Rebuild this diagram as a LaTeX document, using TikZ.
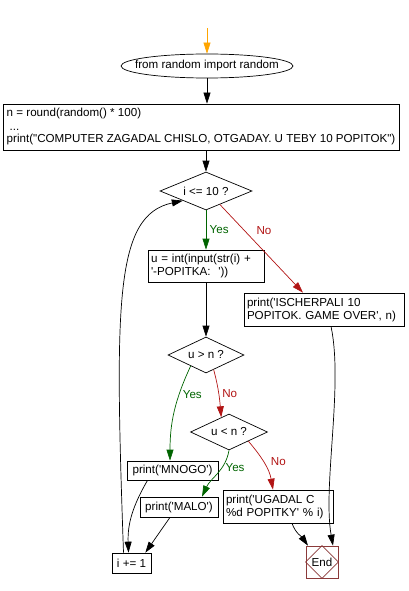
\documentclass[tikz,border=0pt]{standalone}
\usepackage{fontspec}
\newfontfamily\flowfont{Liberation Sans}
\usepackage{xcolor}
\usetikzlibrary{shapes.geometric}
\usetikzlibrary{arrows.meta}
\usetikzlibrary{calc}
\definecolor{yesgreen}{RGB}{0,100,0}
\definecolor{nored}{RGB}{178,20,20}
\definecolor{endred}{RGB}{139,58,58}
\definecolor{startorange}{RGB}{255,165,0}
\tikzset{
  box/.style={draw, rectangle, inner xsep=3pt, inner ysep=1pt},
  test/.style={draw, diamond, aspect=2.4, inner sep=0pt},
  yesline/.style={->, yesgreen},
  noline/.style={->, nored}
}

\begin{document}
\begin{tikzpicture}[x=1pt,y=-1pt,line width=0.7pt,>={Triangle[length=11pt,width=7pt]},font=\flowfont\fontsize{11.6}{13}\selectfont]
  \useasboundingbox (0,0) rectangle (409,591);
  \coordinate (top) at (207,28);
  \node[minimum width=172pt, minimum height=24pt, inner sep=0pt] (imp) at (207,66) {from random import random};
  \draw (imp.center) ellipse [x radius=86pt, y radius=12pt];
  \node[box, minimum width=396pt, minimum height=46pt, inner xsep=2pt, align=left] (init) at (201,127)
    {n = round(random() * 100)\\\hspace*{3pt}...\\print("COMPUTER ZAGADAL CHISLO, OTGADAY. U TEBY 10 POPITOK")};
  \node[test, minimum width=92pt, minimum height=38pt] (c1) at (206,191) {i <= 10 ?};
  \node[box, minimum width=116pt, minimum height=32pt, text width=110pt, align=left] (inp) at (206,266)
    {u = int(input(str(i) +\\'-POPITKA:\ \ '))};
  \node[box, minimum width=160pt, minimum height=33pt, text width=154pt, align=left] (over) at (324,309.5)
    {print('ISCHERPALI 10\\POPITOK. GAME OVER', n)};
  \node[test, minimum width=76pt, minimum height=36pt] (c2) at (206,355) {u > n ?};
  \node[test, minimum width=77pt, minimum height=36pt] (c3) at (229,432) {u < n ?};
  \node[box, minimum width=91pt, minimum height=19pt] (mnogo) at (172.5,470.5) {print('MNOGO')};
  \node[box, minimum width=78pt, minimum height=20pt] (malo) at (179,507) {print('MALO')};
  \node[box, minimum width=110pt, minimum height=33pt, text width=104pt, align=left] (win) at (278,506.5)
    {print('UGADAL C\\\%d POPITKY' \% i)};
  \node[box, minimum width=39pt, minimum height=20pt, inner xsep=1pt] (inc) at (131.5,563) {i += 1};
  \node[draw=endred, minimum size=32pt, inner sep=0pt] (end) at (322,562) {End};
  \draw[endred] (end.north) -- (end.east) -- (end.south) -- (end.west) -- cycle;

  % main line
  \draw[->, startorange] (top) -- (imp);
  \draw[->] (imp) -- (imp |- init.north);
  \draw[->] (init.south -| c1) -- (c1);
  \draw[yesline] (c1) -- node[right] {Yes} (inp);
  \draw[noline] ($(c1.south)!0.3!(c1.east)$) -- node[pos=0.3, right=8pt] {No} ([xshift=-21pt]over.north);
  \draw[->] (inp) -- (c2);
  \draw[yesline] ($(c2.south)!0.4!(c2.west)$) to[out=-115,in=90] node[pos=0.3, right] {Yes} ([xshift=-2.5pt]mnogo.north);
  \draw[noline] ($(c2.south)!0.2!(c2.east)$) to[out=-75,in=95] node[right] {No} ($(c3.north)!0.2!(c3.west)$);
  \draw[yesline] (c3.south) to[out=-100,in=65] node[pos=0.35, right] {Yes} ([xshift=23pt]malo.north);
  \draw[noline] ($(c3.south)!0.5!(c3.east)$) to[out=-50,in=100] node[pos=0.45, right=4pt] {No} ([xshift=-5pt]win.north);
  % to the end
  \draw[->] ([xshift=7pt]over.south) to[out=-78,in=100,looseness=0.7] ([xshift=11pt]end.north);
  \draw[->] ([xshift=14pt]win.south) to[out=-70,in=125] ([xshift=-14pt]end.north);
  % back to the loop
  \draw[->] ([xshift=-25pt]mnogo.south) to[out=-120,in=92] ([xshift=-3pt]inc.north);
  \draw[->] ([xshift=-9pt]malo.south) to[out=-125,in=55] ([xshift=-6pt]inc.north east);
  \draw[->] ([xshift=-8pt]inc.north) to[out=92,in=-168,out looseness=1.8,in looseness=0.5] ($(c1.south)!0.5!(c1.west)$);
\end{tikzpicture}
\end{document}
